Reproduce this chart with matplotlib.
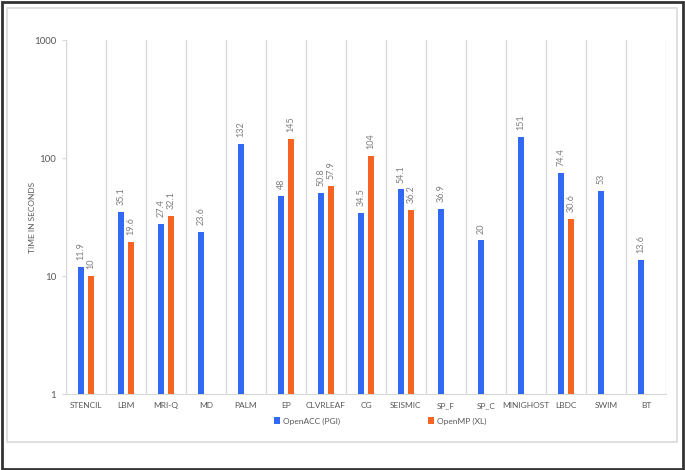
import numpy as np
import matplotlib.pyplot as plt
from matplotlib.patches import Rectangle

benchmarks = ["STENCIL", "LBM", "MRI-Q", "MD", "PALM", "EP", "CLVRLEAF", "CG",
              "SEISMIC", "SP_F", "SP_C", "MINIGHOST", "LBDC", "SWIM", "BT"]
openacc = [11.9, 35.1, 27.4, 23.6, 132, 48, 50.8, 34.5, 54.1, 36.9, 20, 151, 74.4, 53, 13.6]
openmp = [10, 19.6, 32.1, np.nan, np.nan, 145, 57.9, 104, 36.2, np.nan, np.nan, np.nan, 30.6, np.nan, np.nan]

blue = "#3169F5"
orange = "#F56423"
grid_c = "#D9D9D9"
text_c = "#595959"

plt.rcParams["font.family"] = ["Lato", "DejaVu Sans"]

fig = plt.figure(figsize=(6.85, 4.70), dpi=100)
ax = fig.add_axes([66 / 685, 1 - 394 / 470, 600 / 685, 354 / 470])

x = np.arange(len(benchmarks))
w = 0.15
ax.bar(x - 0.125, openacc, w, color=blue, label="OpenACC (PGI)", zorder=3)
ax.bar(x + 0.125, openmp, w, color=orange, label="OpenMP (XL)", zorder=3)

for xi, v in zip(x, openacc):
    ax.annotate(f"{v:g}", (xi - 0.125, v), xytext=(0, 5), textcoords="offset points",
                rotation=90, ha="center", va="bottom", fontsize=6.5, color="#7F7F7F")
for xi, v in zip(x, openmp):
    if np.isfinite(v):
        ax.annotate(f"{v:g}", (xi + 0.125, v), xytext=(0, 5), textcoords="offset points",
                    rotation=90, ha="center", va="bottom", fontsize=6.5, color="#7F7F7F")

ax.set_yscale("log")
ax.set_ylim(1, 1000)
ax.set_xlim(-0.5, len(benchmarks) - 0.5)
ax.set_yticks([1, 10, 100, 1000])
ax.set_yticklabels(["1", "10", "100", "1000"])
ax.minorticks_off()
ax.tick_params(axis="y", length=3, color=grid_c, labelsize=7, labelcolor=text_c, pad=4)

ax.set_xticks(x)
ax.set_xticklabels(benchmarks)
ax.tick_params(axis="x", length=0, labelsize=6, labelcolor=text_c, pad=6)

# category separators
for b in np.arange(-0.5, len(benchmarks) + 0.5, 1):
    ax.axvline(b, color=grid_c, lw=1, zorder=1)

for s in ["top", "right"]:
    ax.spines[s].set_visible(False)
for s in ["left", "bottom"]:
    ax.spines[s].set_color(grid_c)

ax.set_ylabel("TIME IN SECONDS", fontsize=6, color=text_c)
ax.yaxis.set_label_coords(-30 / 600, 0.5)

fig.legend(loc="center", bbox_to_anchor=(380 / 685, 1 - 421 / 470), ncol=2, frameon=False,
           fontsize=6, labelcolor=text_c, handlelength=0.8, handleheight=0.8,
           handletextpad=0.3, columnspacing=10.5)

# frames
fig.add_artist(Rectangle((7 / 685, 1 - 442 / 470), 670 / 685, 434 / 470,
                         transform=fig.transFigure, fill=False, ec=grid_c, lw=1.2))
fig.add_artist(Rectangle((1.5 / 685, 1.5 / 470), 681 / 685, 467 / 470,
                         transform=fig.transFigure, fill=False, ec="#333333", lw=2))

fig.savefig("out.png", dpi=100)
